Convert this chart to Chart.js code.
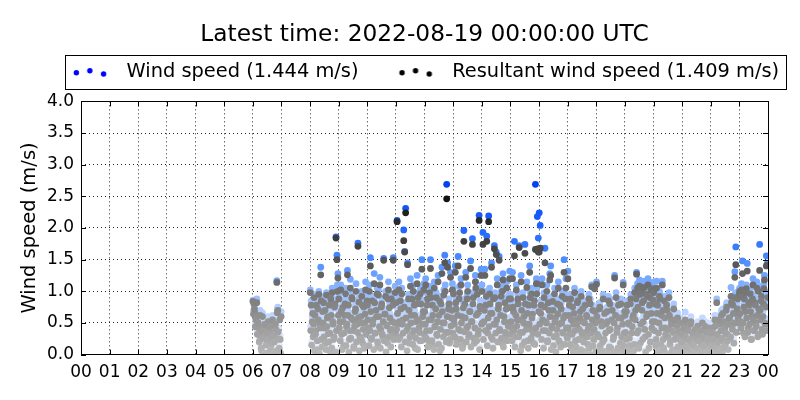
<!DOCTYPE html>
<html>
<head>
<meta charset="utf-8">
<script src="https://cdn.jsdelivr.net/npm/chart.js@4/dist/chart.umd.min.js"></script>
<style>
  body { margin: 0; background: #fff; }
  #wind-chart { display: block; }
</style>
</head>
<body>
<canvas id="wind-chart" width="800" height="400"></canvas>
<script>
// latest values shown in the legend
var windLatest = 1.444;
var resultantLatest = 1.409;

// hours that have data (07 is missing)
var dataHours = [6, 8, 9, 10, 11, 12, 13, 14, 15, 16, 17, 18, 19, 20, 21, 22, 23];

// wind speed (m/s): "a" = even minutes, "b" = odd minutes of each hour
var wind06 = [0.86,0.84,0.72,0.62,0.88,0.55,0.48,0.40,0.30,0.12,0.66,0.52,0.35,0.05,0.45,0.28,0.60,0.10,0.42,0.22,0.02,0.54,0.36,0.08,0.48,1.17,0.75,0.30,0.62,0.05];
var wind08 = [1.02,0.85,0.60,0.35,0.95,0.70,0.45,0.15,0.80,1.00,0.55,1.38,0.30,0.75,0.90,0.50,0.25,0.98,0.65,0.40,0.85,0.10,0.70,1.05,0.55,0.35,0.88,1.86,1.57,1.28];
var wind09 = [0.95,0.60,1.10,0.40,0.80,0.20,0.70,1.05,0.50,1.33,0.85,0.30,1.19,0.65,0.95,0.45,0.15,0.75,1.12,0.55,1.76,0.90,0.35,0.68,1.00,0.25,0.82,0.58,1.15,0.42];
var wind10 = [0.85,0.50,1.10,1.53,0.30,0.92,0.62,1.28,0.40,0.78,1.05,0.20,0.68,1.22,0.48,0.88,0.35,1.52,0.72,1.00,0.55,0.25,1.15,0.82,0.45,0.95,0.60,1.53,0.38,1.08];
var wind11 = [0.90,2.12,0.55,1.15,0.35,0.80,1.05,0.62,1.97,1.63,2.31,0.45,1.45,0.95,0.25,1.20,0.70,0.40,1.10,0.85,0.15,0.60,1.25,0.98,0.50,0.30,0.88,1.50,0.68,1.12];
var wind12 = [0.75,1.20,0.45,0.95,0.30,1.08,1.50,0.62,0.85,0.20,1.15,0.52,0.98,0.38,1.25,0.70,0.10,0.88,1.38,0.58,1.02,1.57,0.42,2.69,1.45,0.80,0.25,1.30,0.65,1.12];
var wind13 = [1.05,0.55,1.40,0.80,0.30,1.55,0.95,0.45,1.20,0.68,0.20,1.96,0.88,1.30,0.50,1.10,0.35,0.75,1.48,0.60,1.83,0.98,0.25,1.25,0.70,1.05,0.40,2.20,0.85,1.35];
var wind14 = [1.10,1.93,0.60,1.35,0.85,1.87,0.40,2.19,1.05,0.72,1.45,0.30,0.95,1.72,0.55,1.62,1.20,0.80,1.55,0.45,1.00,0.25,1.28,0.68,0.90,0.38,1.15,0.58,0.82,1.32];
var wind15 = [0.95,0.50,1.30,0.75,1.79,0.35,1.10,0.62,0.88,1.72,0.42,1.25,0.20,0.98,0.68,1.74,0.55,1.15,0.30,0.85,1.40,0.48,1.05,0.72,0.25,0.92,2.69,1.20,2.18,1.84];
var wind16 = [2.24,2.04,0.85,1.20,0.45,0.98,1.68,0.60,1.10,0.30,0.78,1.28,1.40,0.50,0.92,0.20,1.05,0.65,0.38,0.88,1.15,0.55,0.25,0.80,1.00,0.42,1.50,0.70,1.20,0.35];
var wind17 = [1.32,0.70,0.40,0.95,0.15,0.82,0.55,1.05,0.28,0.62,0.90,0.05,0.48,0.75,1.00,0.35,0.60,0.10,0.85,0.42,0.68,0.22,0.95,0.52,0.02,1.10,0.78,0.30,1.06,0.58];
var wind18 = [1.15,0.40,0.05,0.80,0.20,0.60,0.02,0.95,0.30,0.10,0.55,0.75,0.00,0.45,0.88,0.15,0.62,0.03,0.35,1.25,0.70,0.08,0.50,0.85,0.02,0.25,0.65,0.10,1.14,0.40];
var wind19 = [0.70,0.30,0.85,0.05,0.55,0.20,0.95,0.40,0.65,0.10,1.05,0.78,1.30,1.12,0.45,1.18,0.25,1.08,0.90,0.60,1.16,0.35,1.02,0.72,1.20,0.15,0.98,1.10,0.50,1.14];
var wind20 = [1.05,0.60,0.20,1.16,0.85,0.40,1.00,0.10,0.70,1.16,0.30,0.92,0.50,0.05,0.78,0.35,0.98,0.22,0.62,0.45,0.12,0.80,0.30,0.55,0.02,0.66,0.40,0.15,0.58,0.25];
var wind21 = [0.40,0.15,0.55,0.67,0.05,0.30,0.48,0.10,0.25,0.60,0.02,0.35,0.18,0.45,0.08,0.28,0.52,0.12,0.38,0.00,0.22,0.58,0.06,0.32,0.15,0.44,0.03,0.26,0.50,0.20];
var wind22 = [0.30,0.10,0.50,0.20,0.62,0.05,0.88,0.35,0.15,0.55,0.28,0.70,0.08,0.45,0.60,0.22,0.78,0.40,0.12,0.65,0.32,1.06,0.52,0.85,0.25,1.31,1.70,0.58,0.95,0.72];
var wind23 = [1.05,0.60,1.12,1.48,0.40,0.95,0.75,1.10,1.44,0.50,0.85,1.02,0.30,0.68,1.20,0.45,0.90,0.58,1.15,0.35,0.80,1.74,0.62,1.00,0.40,0.88,1.25,0.55,1.56,1.44];

var wind06b = [0.70,0.78,0.50,0.65,0.38,0.58,0.25,0.70,0.15,0.45,0.32,0.05,0.55,0.20,0.40,0.02,0.30,0.50,0.12,0.35,0.62,0.04,0.25,0.55,0.10,0.72,0.42,0.15,0.30,0.68];
var wind08b = [0.45,0.20,0.72,0.55,0.10,0.38,0.85,0.28,0.62,0.05,0.48,0.92,0.18,0.58,0.35,0.78,0.12,0.50,0.68,0.25,0.40,0.95,0.15,0.60,0.30,0.82,0.08,0.45,1.10,0.70];
var wind09b = [0.50,0.28,0.75,0.12,0.60,0.40,0.88,0.20,0.55,0.70,0.08,0.45,0.32,0.98,0.62,0.18,0.52,0.80,0.25,0.42,0.65,0.10,0.58,0.30,0.85,0.48,0.15,0.72,0.38,0.92];
var wind10b = [0.62,0.20,0.45,0.75,0.32,0.55,0.12,0.90,0.40,0.68,0.25,1.02,0.50,0.15,0.82,0.38,0.60,0.28,0.72,0.08,0.52,0.95,0.35,0.65,0.18,0.48,0.85,0.30,0.58,0.42];
var wind11b = [0.48,0.72,0.30,0.60,0.92,0.18,0.55,0.40,0.82,0.25,0.65,0.10,0.50,0.78,0.35,0.58,0.95,0.22,0.45,0.70,0.32,0.88,0.12,0.62,0.42,1.05,0.28,0.55,0.75,0.38];
var wind12b = [0.55,0.32,0.85,0.18,0.62,0.45,0.98,0.28,0.70,0.12,0.50,0.80,0.38,0.60,0.22,0.92,0.48,0.15,0.75,0.35,0.58,1.10,0.25,0.68,0.42,0.88,0.30,0.52,0.78,0.40];
var wind13b = [0.62,0.35,0.90,0.22,0.70,0.48,1.08,0.30,0.58,0.15,0.82,0.42,0.65,0.25,0.95,0.52,0.38,0.75,0.18,0.60,0.88,0.32,0.50,1.15,0.28,0.72,0.45,0.12,0.80,0.55];
var wind14b = [0.58,0.30,0.78,0.45,1.00,0.20,0.65,0.50,0.88,0.35,0.72,0.15,0.55,0.98,0.40,0.62,0.25,0.85,0.48,0.70,0.32,1.08,0.18,0.60,0.42,0.80,0.28,0.52,0.95,0.38];
var wind15b = [0.60,0.28,0.82,0.45,0.18,0.70,0.52,0.95,0.35,0.62,0.10,0.78,0.42,0.58,0.25,0.88,0.48,0.72,0.15,0.55,0.98,0.32,0.65,0.40,0.85,0.22,0.50,1.05,0.38,0.75];
var wind16b = [0.55,0.72,0.30,0.62,0.15,0.82,0.45,0.58,0.25,0.90,0.40,0.68,0.12,0.52,0.78,0.35,0.60,0.08,0.48,0.72,0.28,0.85,0.18,0.58,0.42,0.65,0.22,0.95,0.50,0.32];
var wind17b = [0.50,0.85,0.22,0.62,0.38,0.08,0.72,0.45,0.18,0.55,0.92,0.30,0.65,0.12,0.42,0.80,0.25,0.58,0.03,0.70,0.35,0.50,0.15,0.88,0.40,0.62,0.20,0.48,0.75,0.10];
var wind18b = [0.68,0.02,0.35,0.82,0.10,0.52,0.25,0.00,0.72,0.40,0.05,0.60,0.92,0.18,0.48,0.03,0.78,0.30,0.58,0.08,0.98,0.42,0.15,0.65,0.02,0.88,0.35,0.55,0.20,0.75];
var wind19b = [0.42,0.75,0.12,0.58,0.32,0.88,0.02,0.50,0.70,0.22,0.62,0.95,0.40,0.82,0.15,1.02,0.55,0.78,0.30,0.92,0.48,0.08,0.68,0.98,0.38,0.85,0.25,0.72,0.60,0.92];
var wind20b = [0.45,0.88,0.30,0.72,0.08,0.58,0.95,0.22,0.50,0.78,0.15,0.65,0.38,0.85,0.02,0.48,0.70,0.28,0.55,0.10,0.42,0.62,0.05,0.35,0.52,0.18,0.45,0.30,0.08,0.40];
var wind21b = [0.25,0.50,0.08,0.35,0.18,0.45,0.02,0.30,0.55,0.12,0.40,0.22,0.05,0.48,0.32,0.15,0.38,0.00,0.28,0.45,0.10,0.35,0.20,0.52,0.05,0.30,0.42,0.12,0.25,0.38];
var wind22b = [0.20,0.42,0.05,0.30,0.52,0.15,0.38,0.25,0.62,0.10,0.45,0.32,0.72,0.18,0.50,0.40,0.82,0.28,0.55,0.65,0.35,0.90,0.48,0.72,0.58,0.98,0.42,0.80,0.65,1.02];
var wind23b = [0.72,0.48,0.98,0.58,0.82,0.35,1.05,0.65,0.42,0.90,0.55,0.75,0.30,0.95,0.62,0.45,0.85,0.52,0.70,1.08,0.38,0.78,0.92,0.48,0.68,1.12,0.58,0.82,0.45,0.98];

// resultant wind speed (m/s), same sample times
var res06 = [0.84,0.80,0.66,0.55,0.82,0.48,0.42,0.33,0.24,0.06,0.60,0.44,0.28,0.02,0.38,0.22,0.52,0.04,0.35,0.15,0.00,0.46,0.30,0.03,0.40,1.14,0.70,0.25,0.55,0.02];
var res08 = [0.98,0.78,0.52,0.28,0.90,0.62,0.38,0.08,0.72,0.95,0.48,1.26,0.24,0.68,0.82,0.42,0.18,0.94,0.58,0.33,0.78,0.05,0.62,0.98,0.48,0.28,0.80,1.84,1.50,1.21];
var res09 = [0.88,0.52,1.02,0.32,0.74,0.14,0.62,0.96,0.44,1.26,0.78,0.24,1.05,0.58,0.88,0.38,0.10,0.68,1.00,0.48,1.71,0.83,0.28,0.60,0.92,0.18,0.75,0.50,1.02,0.35];
var res10 = [0.78,0.42,1.00,1.40,0.24,0.85,0.55,1.12,0.34,0.70,0.96,0.14,0.60,1.10,0.40,0.80,0.28,1.49,0.64,0.92,0.47,0.18,1.02,0.74,0.38,0.88,0.52,1.49,0.30,0.98];
var res11 = [0.82,2.10,0.48,1.02,0.28,0.72,0.96,0.55,1.80,1.62,2.24,0.38,1.42,0.88,0.18,1.08,0.62,0.32,1.00,0.78,0.10,0.52,1.12,0.90,0.42,0.22,0.80,1.35,0.60,1.02];
var res12 = [0.68,1.10,0.38,0.88,0.22,0.98,1.36,0.55,0.78,0.14,1.05,0.45,0.90,0.30,1.15,0.62,0.06,0.80,1.28,0.50,0.94,1.45,0.35,2.46,1.38,0.72,0.18,1.22,0.58,1.02];
var res13 = [0.96,0.48,1.30,0.72,0.24,1.40,0.88,0.38,1.10,0.60,0.14,1.79,0.80,1.22,0.42,1.00,0.28,0.68,1.36,0.52,1.74,0.90,0.18,1.15,0.62,0.95,0.32,2.12,0.76,1.25];
var res14 = [1.00,1.74,0.52,1.25,0.78,1.79,0.34,2.10,0.96,0.65,1.38,0.24,0.88,1.67,0.48,1.58,1.10,0.72,1.49,0.38,0.92,0.18,1.18,0.60,0.82,0.30,1.05,0.50,0.74,1.20];
var res15 = [0.88,0.42,1.20,0.68,1.56,0.28,1.02,0.55,0.80,1.69,0.35,1.15,0.14,0.90,0.60,1.60,0.48,1.06,0.22,0.78,1.30,0.40,0.96,0.64,0.18,0.85,1.66,1.12,1.67,1.62];
var res16 = [1.62,1.68,0.78,1.10,0.38,0.90,1.45,0.52,1.00,0.22,0.70,1.18,1.25,0.42,0.84,0.14,0.96,0.58,0.30,0.80,1.05,0.48,0.18,0.72,0.92,0.34,1.30,0.62,1.05,0.28];
var res17 = [1.20,0.62,0.34,0.88,0.10,0.75,0.48,0.98,0.22,0.55,0.82,0.02,0.40,0.68,0.92,0.28,0.52,0.05,0.78,0.35,0.60,0.16,0.88,0.45,0.00,1.07,0.70,0.24,1.04,0.50];
var res18 = [1.11,0.32,0.02,0.72,0.14,0.52,0.00,0.88,0.24,0.05,0.48,0.68,0.00,0.38,0.80,0.10,0.55,0.01,0.28,1.21,0.62,0.04,0.42,0.78,0.00,0.18,0.58,0.06,1.10,0.34];
var res19 = [0.62,0.24,0.78,0.02,0.48,0.14,0.88,0.34,0.58,0.06,0.98,0.70,1.27,1.05,0.38,1.08,0.18,1.00,0.82,0.52,1.06,0.28,0.95,0.64,1.10,0.10,0.90,1.02,0.42,1.04];
var res20 = [0.98,0.52,0.14,1.05,0.78,0.34,0.92,0.06,0.62,1.10,0.24,0.85,0.42,0.02,0.70,0.28,0.90,0.16,0.55,0.38,0.08,0.72,0.24,0.48,0.00,0.58,0.32,0.10,0.50,0.18];
var res21 = [0.34,0.10,0.48,0.55,0.02,0.24,0.40,0.06,0.18,0.52,0.00,0.28,0.12,0.38,0.04,0.22,0.45,0.08,0.30,0.00,0.16,0.50,0.03,0.25,0.10,0.36,0.01,0.20,0.42,0.14];
var res22 = [0.24,0.06,0.42,0.14,0.55,0.02,0.82,0.28,0.10,0.48,0.22,0.62,0.04,0.38,0.52,0.16,0.70,0.32,0.08,0.58,0.26,0.92,0.45,0.78,0.18,1.22,1.42,0.50,0.88,0.65];
var res23 = [1.00,0.52,1.02,1.28,0.34,0.88,0.68,1.04,1.32,0.42,0.78,0.96,0.24,0.60,1.10,0.38,0.82,0.50,1.05,0.28,0.72,1.33,0.55,0.92,0.32,0.80,1.18,0.48,1.40,1.41];

var res06b = [0.64,0.72,0.44,0.58,0.32,0.50,0.20,0.62,0.10,0.38,0.26,0.02,0.48,0.15,0.34,0.00,0.24,0.44,0.08,0.28,0.55,0.02,0.20,0.48,0.06,0.66,0.36,0.10,0.24,0.60];
var res08b = [0.38,0.15,0.65,0.48,0.06,0.32,0.78,0.22,0.55,0.02,0.42,0.85,0.12,0.50,0.28,0.70,0.08,0.44,0.60,0.20,0.34,0.88,0.10,0.52,0.24,0.75,0.04,0.38,1.00,0.62];
var res09b = [0.42,0.22,0.68,0.08,0.52,0.34,0.80,0.14,0.48,0.62,0.04,0.38,0.26,0.90,0.55,0.12,0.45,0.72,0.20,0.35,0.58,0.06,0.50,0.24,0.78,0.40,0.10,0.64,0.32,0.85];
var res10b = [0.55,0.14,0.38,0.68,0.26,0.48,0.08,0.82,0.34,0.60,0.20,0.94,0.44,0.10,0.75,0.32,0.52,0.22,0.64,0.04,0.45,0.88,0.28,0.58,0.12,0.40,0.78,0.24,0.50,0.36];
var res11b = [0.40,0.65,0.24,0.52,0.85,0.12,0.48,0.34,0.75,0.20,0.58,0.06,0.44,0.70,0.28,0.50,0.88,0.16,0.38,0.62,0.26,0.80,0.08,0.55,0.35,0.96,0.22,0.48,0.68,0.32];
var res12b = [0.48,0.26,0.78,0.12,0.55,0.38,0.90,0.22,0.62,0.08,0.44,0.72,0.32,0.52,0.16,0.85,0.40,0.10,0.68,0.28,0.50,1.00,0.20,0.60,0.35,0.80,0.24,0.45,0.70,0.34];
var res13b = [0.55,0.28,0.82,0.16,0.62,0.40,0.98,0.24,0.50,0.10,0.74,0.36,0.58,0.20,0.88,0.45,0.32,0.68,0.12,0.52,0.80,0.26,0.42,1.05,0.22,0.65,0.38,0.08,0.72,0.48];
var res14b = [0.50,0.24,0.70,0.38,0.92,0.14,0.58,0.44,0.80,0.28,0.65,0.10,0.48,0.90,0.34,0.55,0.20,0.78,0.40,0.62,0.26,1.00,0.12,0.52,0.35,0.72,0.22,0.45,0.88,0.32];
var res15b = [0.52,0.22,0.75,0.38,0.12,0.62,0.45,0.88,0.28,0.55,0.06,0.70,0.35,0.50,0.20,0.80,0.40,0.65,0.10,0.48,0.90,0.26,0.58,0.34,0.78,0.16,0.42,0.96,0.32,0.68];
var res16b = [0.48,0.65,0.24,0.55,0.10,0.75,0.38,0.50,0.20,0.82,0.34,0.60,0.08,0.45,0.70,0.28,0.52,0.04,0.40,0.64,0.22,0.78,0.12,0.50,0.35,0.58,0.16,0.88,0.42,0.26];
var res17b = [0.42,0.78,0.16,0.55,0.32,0.04,0.65,0.38,0.12,0.48,0.85,0.24,0.58,0.08,0.35,0.72,0.20,0.50,0.01,0.62,0.28,0.42,0.10,0.80,0.34,0.55,0.14,0.40,0.68,0.06];
var res18b = [0.60,0.00,0.28,0.75,0.06,0.45,0.20,0.00,0.65,0.34,0.02,0.52,0.85,0.12,0.40,0.01,0.70,0.24,0.50,0.04,0.90,0.35,0.10,0.58,0.00,0.80,0.28,0.48,0.14,0.68];
var res19b = [0.35,0.68,0.08,0.50,0.26,0.80,0.00,0.44,0.62,0.16,0.55,0.88,0.34,0.75,0.10,0.95,0.48,0.70,0.24,0.85,0.40,0.04,0.60,0.92,0.32,0.78,0.20,0.65,0.52,0.86];
var res20b = [0.38,0.80,0.24,0.65,0.04,0.50,0.88,0.16,0.42,0.70,0.10,0.58,0.32,0.78,0.00,0.40,0.62,0.22,0.48,0.06,0.35,0.55,0.02,0.28,0.45,0.12,0.38,0.24,0.04,0.32];
var res21b = [0.20,0.42,0.04,0.28,0.12,0.38,0.00,0.24,0.48,0.08,0.34,0.16,0.02,0.40,0.26,0.10,0.32,0.00,0.22,0.38,0.06,0.28,0.14,0.45,0.02,0.24,0.35,0.08,0.20,0.32];
var res22b = [0.15,0.35,0.02,0.24,0.45,0.10,0.32,0.20,0.55,0.06,0.38,0.26,0.65,0.12,0.42,0.34,0.75,0.22,0.48,0.58,0.28,0.82,0.40,0.65,0.50,0.90,0.35,0.72,0.58,0.95];
var res23b = [0.65,0.42,0.92,0.50,0.75,0.28,0.98,0.58,0.35,0.82,0.48,0.68,0.24,0.88,0.55,0.38,0.78,0.45,0.62,1.00,0.32,0.70,0.85,0.40,0.60,1.04,0.50,0.75,0.38,0.90];

var windA = {6: wind06, 8: wind08, 9: wind09, 10: wind10, 11: wind11, 12: wind12, 13: wind13, 14: wind14,
  15: wind15, 16: wind16, 17: wind17, 18: wind18, 19: wind19, 20: wind20, 21: wind21, 22: wind22, 23: wind23};
var windB = {6: wind06b, 8: wind08b, 9: wind09b, 10: wind10b, 11: wind11b, 12: wind12b, 13: wind13b, 14: wind14b,
  15: wind15b, 16: wind16b, 17: wind17b, 18: wind18b, 19: wind19b, 20: wind20b, 21: wind21b, 22: wind22b, 23: wind23b};
var resA = {6: res06, 8: res08, 9: res09, 10: res10, 11: res11, 12: res12, 13: res13, 14: res14,
  15: res15, 16: res16, 17: res17, 18: res18, 19: res19, 20: res20, 21: res21, 22: res22, 23: res23};
var resB = {6: res06b, 8: res08b, 9: res09b, 10: res10b, 11: res11b, 12: res12b, 13: res13b, 14: res14b,
  15: res15b, 16: res16b, 17: res17b, 18: res18b, 19: res19b, 20: res20b, 21: res21b, 22: res22b, 23: res23b};

// even / odd samples interleave through their hour
function toPoints(a, b) {
  var pts = [];
  dataHours.forEach(function (h) {
    var n = a[h].length + b[h].length;
    a[h].forEach(function (v, i) { pts.push({x: h + (2 * i + 0.5) / n, y: v}); });
    b[h].forEach(function (v, i) { pts.push({x: h + (2 * i + 1.5) / n, y: v}); });
  });
  return pts;
}

// darker / stronger colour for higher speeds
function greyFor(v) {
  var c = Math.max(0, Math.round(185 - 68 * v));
  return 'rgb(' + c + ',' + c + ',' + c + ')';
}
var blueStops = [[0, 238, 244, 255], [0.5, 205, 223, 255], [1.0, 145, 185, 255], [1.5, 74, 140, 255], [2.0, 30, 100, 255], [2.7, 0, 68, 238]];
function blueFor(v) {
  var i = 1;
  while (i < blueStops.length - 1 && v > blueStops[i][0]) i++;
  var a = blueStops[i - 1], b = blueStops[i];
  var t = Math.max(0, Math.min(1, (v - a[0]) / (b[0] - a[0])));
  return 'rgb(' + Math.round(a[1] + (b[1] - a[1]) * t) + ',' + Math.round(a[2] + (b[2] - a[2]) * t) + ',' +
    Math.round(a[3] + (b[3] - a[3]) * t) + ')';
}

// three-dot legend markers
function dots(color) {
  var c = document.createElement('canvas');
  c.width = 74; c.height = 12;
  var g = c.getContext('2d');
  g.fillStyle = color;
  [[33.5, 6.7], [47, 4.7], [60.7, 8]].forEach(function (p) {
    g.beginPath(); g.arc(p[0], p[1], 2.7, 0, Math.PI * 2); g.fill();
  });
  return c;
}
var legendDots = [dots('#0000ff'), dots('#000000')];

var legendBox = null;
var frame = {
  id: 'frame',
  afterLayout: function (chart) {
    // move the legend where matplotlib puts it
    var lg = chart.legend;
    var p = lg.options.labels.padding;
    lg.left = 22; lg.right = 800;
    lg.top -= 9.7; lg.bottom -= 9.7;
    var start = (lg.left + p + lg.right - lg.lineWidths[0]) / 2;
    legendBox = {l: start + 21.7, r: start + lg.lineWidths[0] - p + 6.3, t: lg.top + 2.7, b: lg.top + 36.7};
  },
  afterDatasetsDraw: function (chart) {
    var ctx = chart.ctx, a = chart.chartArea, sx = chart.scales.x, sy = chart.scales.y;
    ctx.save();
    ctx.strokeStyle = '#000';
    ctx.lineWidth = 1;
    ctx.beginPath();
    sx.ticks.forEach(function (t) {
      var px = Math.round(sx.getPixelForValue(t.value)) + 0.5;
      ctx.moveTo(px, a.bottom); ctx.lineTo(px, a.bottom - 5);
      ctx.moveTo(px, a.top); ctx.lineTo(px, a.top + 5);
    });
    sy.ticks.forEach(function (t) {
      var py = Math.round(sy.getPixelForValue(t.value)) + 0.5;
      ctx.moveTo(a.left, py); ctx.lineTo(a.left + 5, py);
      ctx.moveTo(a.right, py); ctx.lineTo(a.right - 5, py);
    });
    ctx.stroke();
    ctx.strokeRect(Math.round(a.left) + 0.5, Math.round(a.top) + 0.5,
      Math.round(a.right - a.left), Math.round(a.bottom - a.top));
    ctx.restore();
  },
  afterDraw: function (chart) {
    if (!legendBox) return;
    var ctx = chart.ctx;
    ctx.save();
    ctx.strokeStyle = '#000';
    ctx.lineWidth = 1;
    ctx.strokeRect(Math.round(legendBox.l) + 0.5, Math.round(legendBox.t) + 0.5,
      Math.round(legendBox.r - legendBox.l), Math.round(legendBox.b - legendBox.t));
    ctx.restore();
  }
};

Chart.defaults.font.family = "'DejaVu Sans', sans-serif";
Chart.defaults.color = '#000';

var ctx = document.getElementById('wind-chart').getContext('2d');
var mychart = new Chart(ctx, {
  type: 'scatter',
  data: {
    datasets: [{
      label: 'Wind speed (' + windLatest.toFixed(3) + ' m/s)',
      data: toPoints(windA, windB),
      order: 2,
      pointRadius: 3.4,
      pointBorderWidth: 0,
      pointHoverRadius: 3.4,
      pointBackgroundColor: function (c) { return blueFor(c.raw ? c.raw.y : 2.7); },
      backgroundColor: '#0000ff',
      clip: 0
    }, {
      label: 'Resultant wind speed (' + resultantLatest.toFixed(3) + ' m/s)',
      data: toPoints(resA, resB),
      order: 1,
      pointRadius: 3.4,
      pointBorderWidth: 0,
      pointHoverRadius: 3.4,
      pointBackgroundColor: function (c) { return greyFor(c.raw ? c.raw.y : 3); },
      backgroundColor: '#000000',
      clip: 0
    }]
  },
  options: {
    responsive: false,
    animation: false,
    devicePixelRatio: 1,
    events: [],
    layout: {padding: {left: 18, right: 0, top: 0, bottom: 9}},
    scales: {
      x: {
        type: 'linear',
        min: 0, max: 24,
        grid: {color: '#222', lineWidth: 1, drawTicks: false},
        border: {display: false, dash: [1, 3]},
        ticks: {
          stepSize: 1, autoSkip: false, maxRotation: 0, padding: 8,
          font: {size: 17},
          callback: function (v) { return String(v % 24).padStart(2, '0'); }
        },
        afterFit: function (scale) { scale.paddingRight = 32; }
      },
      y: {
        min: 0, max: 4,
        grid: {color: '#222', lineWidth: 1, drawTicks: false},
        border: {display: false, dash: [1, 3]},
        ticks: {
          stepSize: 0.5, padding: 7,
          font: {size: 17},
          callback: function (v) { return v.toFixed(1); }
        },
        title: {display: true, text: 'Wind speed (m/s)', font: {size: 19.5}, padding: 0},
        afterFit: function (scale) { scale.width = 63; }
      }
    },
    plugins: {
      title: {
        display: true,
        fullSize: false,
        text: 'Latest time: 2022-08-19 00:00:00 UTC',
        font: {size: 23.3, weight: 'normal'},
        color: '#000',
        padding: {top: 21, bottom: 13}
      },
      legend: {
        display: true,
        position: 'top',
        labels: {
          usePointStyle: true,
          pointStyleWidth: 74,
          boxHeight: 19.4,
          padding: 10,
          font: {size: 19.4},
          color: '#000',
          sort: function (a, b) { return a.datasetIndex - b.datasetIndex; },
          generateLabels: function (chart) {
            var items = Chart.defaults.plugins.legend.labels.generateLabels(chart);
            items.forEach(function (it) { it.pointStyle = legendDots[it.datasetIndex]; });
            return items;
          }
        }
      },
      tooltip: {enabled: false}
    }
  },
  plugins: [frame]
});
</script>
</body>
</html>
